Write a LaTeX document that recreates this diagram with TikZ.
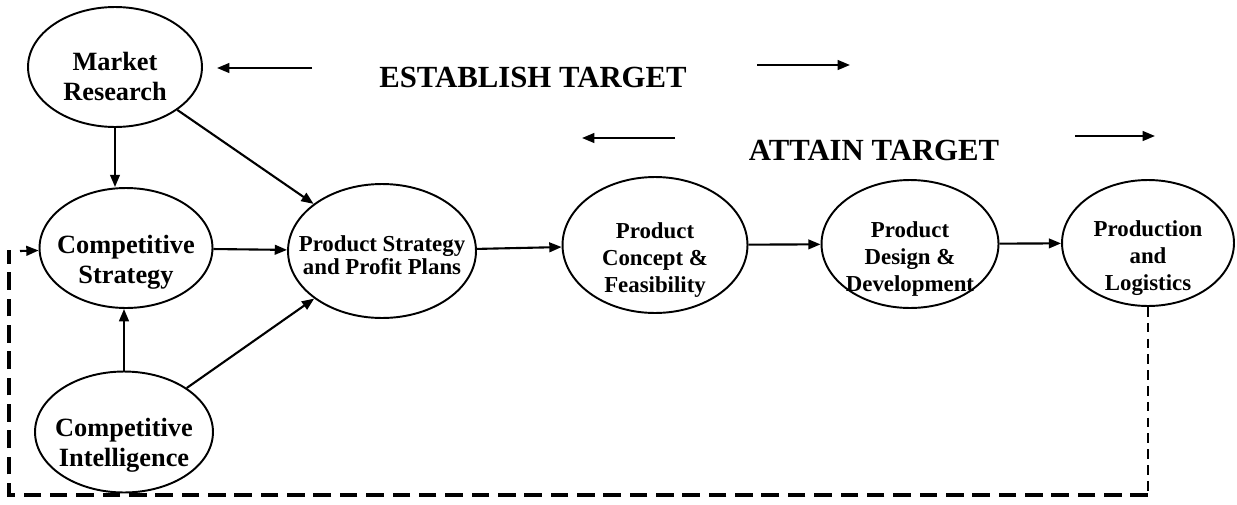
\documentclass[tikz,border=0pt]{standalone}
\usepackage{fontspec}
\setmainfont{Liberation Serif}
\usetikzlibrary{arrows.meta,shapes.geometric}

\tikzset{
  oval/.style={draw, ellipse, line width=1.1pt, inner sep=0pt},
  bigtxt/.style={font=\bfseries\fontsize{15}{17}\selectfont, align=center, inner sep=0pt},
  smalltxt/.style={font=\bfseries\fontsize{13}{15.5}\selectfont, align=center, inner sep=0pt},
  headtxt/.style={font=\bfseries\fontsize{17.5}{20}\selectfont},
  flow/.style={line width=1.2pt, ->},
  fbthin/.style={line width=1.1pt, dash pattern=on 5.5pt off 3.5pt},
  fbthick/.style={line width=1.8pt, dash pattern=on 10pt off 5pt},
}

\begin{document}
\begin{tikzpicture}[x=0.02cm, y=-0.02cm, >={Triangle[length=7pt,width=5.5pt]}]
  \useasboundingbox (0,0) rectangle (1237,504);

  % left column
  \node[oval, minimum width=3.48cm, minimum height=2.4cm,
    label={[bigtxt, yshift=-5.5pt]center:Market\\Research}] (mr) at (115,67) {};
  \node[oval, minimum width=3.46cm, minimum height=2.4cm,
    label={[bigtxt, yshift=-8pt]center:Competitive\\Strategy}] (cs) at (126,248) {};
  \node[oval, minimum width=3.56cm, minimum height=2.42cm,
    label={[bigtxt, yshift=-7.5pt]center:Competitive\\Intelligence}] (ci) at (124,432) {};

  % main row
  \node[oval, minimum width=3.76cm, minimum height=2.68cm,
    label={[smalltxt, font=\bfseries\fontsize{13}{13}\selectfont, yshift=-2.5pt]center:Product Strategy\\and Profit Plans}] (ps) at (382,251) {};
  \node[oval, minimum width=3.7cm, minimum height=2.72cm,
    label={[smalltxt, yshift=-8.5pt]center:Product\\Concept \&\\Feasibility}] (pc) at (655,245) {};
  \node[oval, minimum width=3.54cm, minimum height=2.56cm,
    label={[smalltxt, yshift=-8.5pt]center:Product\\Design \&\\Development}] (pd) at (910,244) {};
  \node[oval, minimum width=3.44cm, minimum height=2.52cm,
    label={[smalltxt, yshift=-8.5pt]center:Production\\and\\Logistics}] (pl) at (1148,243) {};

  % headings
  \node[headtxt] (est) at (533,77) {ESTABLISH TARGET};
  \node[headtxt] (att) at (874,150) {ATTAIN TARGET};

  \coordinate (E1) at (312,68);
  \coordinate (E2) at (217,68);
  \coordinate (E3) at (757,65);
  \coordinate (E4) at (850,65);
  \coordinate (A1) at (675,138);
  \coordinate (A2) at (582,138);
  \coordinate (A3) at (1075,136);
  \coordinate (A4) at (1155,136);

  \foreach \P/\Q in {E1/E2,E3/E4,A1/A2,A3/A4}{
    \draw[flow] (\P) -- (\Q);
  }

  % links
  \draw[flow] (mr) -- (mr |- cs.north);
  \draw[flow] (mr) -- (ps);
  \draw[flow] (ci) -- (ci |- cs.south);
  \draw[flow] (ci) -- (ps);
  \foreach \P/\Q in {cs/ps,ps/pc,pc/pd,pd/pl}{
    \draw[flow] (\P) -- (\Q);
  }

  % feedback loop
  \coordinate (F1) at (1153,495);
  \coordinate (F2) at (9,495);
  \coordinate (F3) at (9,250);
  \coordinate (F4) at (20,251);
  \draw[fbthin] (pl.south) -- (pl.south |- F1);
  \draw[fbthick] (pl.south |- F1) -- (F2) -- (F3);
  \draw[flow] (F4) -- (cs);
\end{tikzpicture}
\end{document}
